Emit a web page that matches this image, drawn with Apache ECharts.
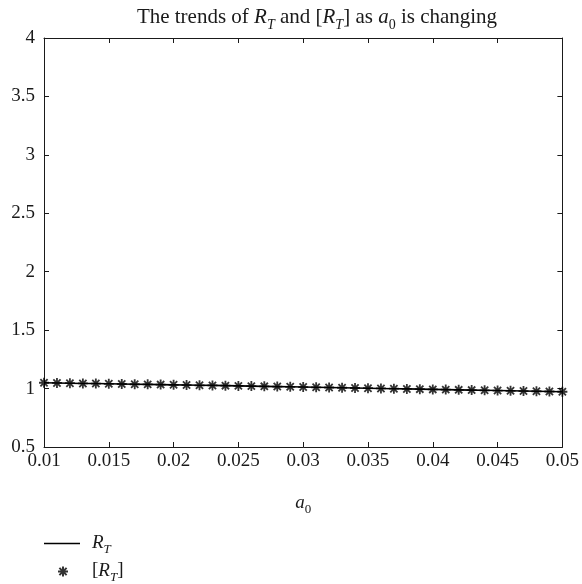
<!DOCTYPE html>
<html>
<head>
<meta charset="utf-8">
<title>R_T vs a0</title>
<script src="https://cdn.jsdelivr.net/npm/echarts@6/dist/echarts.min.js"></script>
<style>
  html, body { margin: 0; padding: 0; background: #fff; }
  #chart { width: 582px; height: 584px; }
</style>
</head>
<body>
<div id="chart"></div>
<script>
// a0 sample points (step 0.001)
const a0Values = [
  0.010, 0.011, 0.012, 0.013, 0.014, 0.015, 0.016, 0.017, 0.018, 0.019,
  0.020, 0.021, 0.022, 0.023, 0.024, 0.025, 0.026, 0.027, 0.028, 0.029,
  0.030, 0.031, 0.032, 0.033, 0.034, 0.035, 0.036, 0.037, 0.038, 0.039,
  0.040, 0.041, 0.042, 0.043, 0.044, 0.045, 0.046, 0.047, 0.048, 0.049,
  0.050
];
// basic reproduction number R_T at each a0
const rtValues = [
  1.050, 1.048, 1.046, 1.044, 1.043, 1.041, 1.039, 1.037, 1.036, 1.034,
  1.032, 1.030, 1.028, 1.027, 1.025, 1.023, 1.021, 1.019, 1.017, 1.015,
  1.013, 1.011, 1.009, 1.007, 1.005, 1.003, 1.001, 0.999, 0.997, 0.995,
  0.993, 0.991, 0.989, 0.987, 0.985, 0.983, 0.981, 0.979, 0.977, 0.975,
  0.973
];
// the same quantity evaluated as [R_T]
const rtBracketValues = rtValues.slice();

const xTicks = { min: 0.01, max: 0.05, interval: 0.005 };
const yTicks = { min: 0.5, max: 4, interval: 0.5 };

const serif = '"Liberation Serif", "DejaVu Serif", serif';
const ink = '#1a1a1a';

// rich-text styles: subscripts get a top padding that pushes them below
// the baseline of the surrounding glyphs
function richSet(size) {
  const sub = Math.round(size * 0.68);
  const base = { fontFamily: serif, color: ink, fontWeight: 'normal', verticalAlign: 'top' };
  return {
    n: { ...base, fontSize: size, lineHeight: size + 2 },
    i: { ...base, fontSize: size, fontStyle: 'italic', lineHeight: size + 2 },
    s: { ...base, fontSize: sub, fontStyle: 'italic', lineHeight: sub, padding: [Math.round(size * 0.5), 0, 0, 0] },
    z: { ...base, fontSize: sub, lineHeight: sub, padding: [Math.round(size * 0.5), 0, 0, 0] }
  };
}

const starPath = 'path://M0,-5L0,5M-5,0L5,0M-3.6,-3.6L3.6,3.6M-3.6,3.6L3.6,-3.6';

const fmtX = v => String(parseFloat(v.toFixed(3)));
const fmtY = v => String(parseFloat(v.toFixed(2)));

const pairsRt = a0Values.map((x, k) => [x, rtValues[k]]);
const pairsBr = a0Values.map((x, k) => [x, rtBracketValues[k]]);

const axisLineStyle = { lineStyle: { color: ink, width: 1 } };
const tickStyle = { show: true, inside: true, length: 5, lineStyle: { color: ink, width: 1 } };

const legendFormatter = name => name === 'R_T' ? '{i|R}{s|T}' : '{n|[}{i|R}{s|T}{n|]}';

const chart = echarts.init(document.getElementById('chart'), null, { renderer: 'canvas' });
chart.setOption({
  backgroundColor: '#ffffff',
  animation: false,
  title: {
    text: '{n|The trends of }{i|R}{s|T}{n| and [}{i|R}{s|T}{n|] as }{i|a}{z|0}{n| is changing}',
    left: 312,
    textAlign: 'center',
    top: 2,
    textStyle: { fontWeight: 'normal', rich: richSet(21) }
  },
  grid: { left: 44, right: 19, top: 38, bottom: 137, containLabel: false },
  xAxis: [
    {
      type: 'value', min: xTicks.min, max: xTicks.max, interval: xTicks.interval,
      position: 'bottom',
      name: '{i|a}{z|0}', nameLocation: 'middle', nameGap: 46,
      nameTextStyle: { rich: richSet(19) },
      axisLine: axisLineStyle, axisTick: tickStyle,
      axisLabel: { formatter: fmtX, fontFamily: serif, fontSize: 19, color: ink, margin: 5 },
      splitLine: { show: false }
    },
    {
      type: 'value', min: xTicks.min, max: xTicks.max, interval: xTicks.interval,
      position: 'top',
      axisLine: axisLineStyle, axisTick: tickStyle,
      axisLabel: { show: false }, splitLine: { show: false }
    }
  ],
  yAxis: [
    {
      type: 'value', min: yTicks.min, max: yTicks.max, interval: yTicks.interval,
      position: 'left',
      axisLine: { show: true, ...axisLineStyle }, axisTick: tickStyle,
      axisLabel: { formatter: fmtY, fontFamily: serif, fontSize: 19, color: ink, margin: 9 },
      splitLine: { show: false }
    },
    {
      type: 'value', min: yTicks.min, max: yTicks.max, interval: yTicks.interval,
      position: 'right',
      axisLine: { show: true, ...axisLineStyle }, axisTick: tickStyle,
      axisLabel: { show: false }, splitLine: { show: false }
    }
  ],
  legend: [
    {
      orient: 'vertical',
      left: 39,
      top: 528,
      itemWidth: 36,
      itemHeight: 10,
      formatter: legendFormatter,
      textStyle: { rich: richSet(19), padding: [0, 0, 0, 7] },
      data: [{ name: 'R_T', icon: 'path://M0,0L36,0L36,1.4L0,1.4Z', itemStyle: { color: '#000' } }]
    },
    {
      orient: 'vertical',
      left: 52,
      top: 556,
      itemWidth: 10,
      itemHeight: 10,
      formatter: legendFormatter,
      textStyle: { rich: richSet(19), padding: [0, 0, 0, 19] },
      data: [{ name: '[R_T]' }]
    }
  ],
  series: [
    {
      name: 'R_T',
      type: 'line',
      data: pairsRt,
      showSymbol: false,
      symbol: 'none',
      lineStyle: { color: '#000', width: 1.6 },
      itemStyle: { color: '#000' },
      z: 2
    },
    {
      name: '[R_T]',
      type: 'scatter',
      data: pairsBr,
      symbol: starPath,
      symbolSize: 10,
      itemStyle: { color: 'transparent', borderColor: '#000', borderWidth: 1.8 },
      z: 3
    }
  ]
});
</script>
</body>
</html>
